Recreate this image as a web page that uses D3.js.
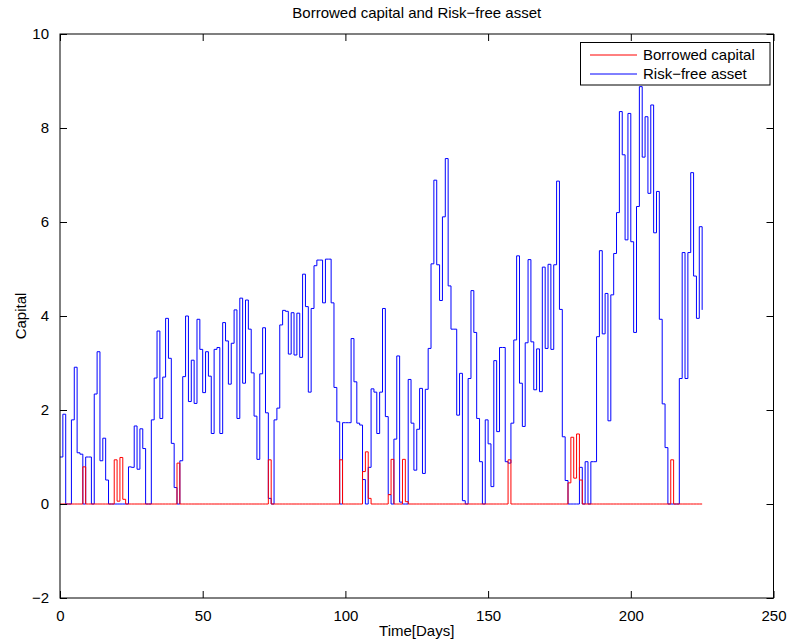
<!doctype html>
<html>
<head>
<meta charset="utf-8"/>
<title>Borrowed capital and Risk-free asset</title>
<script src="https://d3js.org/d3.v7.min.js"></script>
<style>
  body { margin: 0; background: #fff; }
  text { font-family: "Liberation Sans", Arial, sans-serif; font-size: 15px; fill: #000; }
</style>
</head>
<body>
<div id="chart"></div>
<script>
// values per day (stairs)
var riskFree = [
  1.00, 1.91, 0, 0, 1.79, 2.91, 1.09, 1.06, 0, 1.00,
  1.00, 0, 2.34, 3.24, 0.92, 1.40, 0.51, 0, 0, 0,
  0, 0, 0, 0, 0.79, 0.78, 1.66, 0.74, 1.60, 1.18,
  0, 0, 1.79, 2.68, 3.68, 1.82, 2.70, 3.95, 3.10, 1.29,
  0.35, 0, 0.92, 2.71, 4.00, 2.18, 3.06, 2.14, 3.93, 3.29,
  2.37, 3.24, 2.72, 1.50, 3.29, 3.33, 1.50, 3.86, 3.47, 2.55,
  3.42, 4.13, 1.82, 4.38, 2.57, 4.34, 3.72, 2.79, 1.87, 0.95,
  2.77, 3.75, 1.94, 0.12, 0, 1.79, 2.04, 3.81, 4.12, 4.10,
  3.19, 4.07, 3.17, 4.06, 3.12, 4.89, 4.20, 2.38, 4.16, 5.07,
  5.19, 5.19, 4.28, 5.21, 5.21, 4.28, 2.48, 1.75, 0, 1.73,
  1.73, 1.73, 3.52, 2.60, 1.72, 1.68, 0.52, 0, 0.78, 2.45,
  2.38, 1.50, 2.38, 4.16, 1.86, 0.20, 0, 1.38, 3.15, 0.04,
  0, 0, 2.65, 1.72, 0.72, 1.59, 2.46, 0.65, 2.44, 3.31,
  5.11, 6.89, 5.09, 4.33, 6.11, 7.35, 4.64, 3.72, 3.72, 1.89,
  2.78, 0.07, 0, 2.67, 4.54, 3.65, 1.82, 0.90, 0, 1.79,
  1.28, 0.37, 3.05, 1.54, 3.33, 3.33, 0.90, 0.87, 1.72, 3.49,
  5.28, 2.57, 1.65, 3.43, 5.20, 3.45, 2.43, 3.30, 2.39, 5.04,
  3.31, 5.10, 3.29, 5.09, 6.87, 4.14, 1.43, 0.50, 0, 0,
  0, 0, 0.78, 0, 0.90, 0, 0.90, 0.90, 3.56, 5.39,
  3.62, 4.48, 1.77, 4.45, 5.33, 6.20, 8.35, 7.43, 5.62, 8.31,
  5.58, 3.65, 6.33, 8.88, 7.38, 8.24, 6.61, 8.49, 5.77, 6.65,
  3.93, 2.13, 1.20, 0, 0, 0, 0, 2.67, 5.35, 2.67,
  5.35, 7.05, 4.85, 3.95, 5.90, 4.13
];

var borrowed = [
  0, 0, 0, 0, 0, 0, 0, 0, 0.79, 0,
  0, 0, 0, 0, 0, 0, 0, 0, 0, 0.94,
  0.06, 0.99, 0.10, 0, 0, 0, 0, 0, 0, 0,
  0, 0, 0, 0, 0, 0, 0, 0, 0, 0,
  0, 0.87, 0, 0, 0, 0, 0, 0, 0, 0,
  0, 0, 0, 0, 0, 0, 0, 0, 0, 0,
  0, 0, 0, 0, 0, 0, 0, 0, 0, 0,
  0, 0, 0, 0.94, 0, 0, 0, 0, 0, 0,
  0, 0, 0, 0, 0, 0, 0, 0, 0, 0,
  0, 0, 0, 0, 0, 0, 0, 0, 0.94, 0,
  0, 0, 0, 0, 0, 0, 0.69, 1.11, 0.12, 0,
  0, 0, 0, 0, 0, 0.20, 0.95, 0, 0, 0,
  0.95, 0.05, 0, 0, 0, 0, 0, 0, 0, 0,
  0, 0, 0, 0, 0, 0, 0, 0, 0, 0,
  0, 0, 0, 0, 0, 0, 0, 0, 0, 0,
  0, 0, 0, 0, 0, 0, 0, 0.94, 0, 0,
  0, 0, 0, 0, 0, 0, 0, 0, 0, 0,
  0, 0, 0, 0, 0, 0, 0, 0, 0.45, 1.42,
  0.55, 1.49, 0.51, 0, 0, 0, 0, 0, 0, 0,
  0, 0, 0, 0, 0, 0, 0, 0, 0, 0,
  0, 0, 0, 0, 0, 0, 0, 0, 0, 0,
  0, 0, 0, 0, 0.94, 0, 0, 0, 0, 0,
  0, 0, 0, 0, 0, 0
];

var xTicks = [0, 50, 100, 150, 200, 250];
var yTicks = [-2, 0, 2, 4, 6, 8, 10];
var seriesNames = ["Borrowed capital", "Risk\u2212free asset"];
var seriesColors = ["#ff0000", "#0000ff"];

var W = 789, H = 641;
var mLeft = 60, mRight = 773.5, mTop = 34, mBottom = 598;

var svg = d3.select("#chart").append("svg")
  .attr("width", W)
  .attr("height", H);

var x = d3.scaleLinear().domain([0, 250]).range([mLeft, mRight]);
var y = d3.scaleLinear().domain([-2, 10]).range([mBottom, mTop]);

// stairs lines
var stairs = d3.line()
  .x(function(d, i) { return x(i); })
  .y(function(d) { return y(d); })
  .curve(d3.curveStepAfter);

var plot = svg.append("g");
plot.append("path")
  .datum(riskFree)
  .attr("d", stairs)
  .attr("fill", "none")
  .attr("stroke", seriesColors[1])
  .attr("stroke-width", 1);
plot.append("path")
  .datum(borrowed)
  .attr("d", stairs)
  .attr("fill", "none")
  .attr("stroke", seriesColors[0])
  .attr("stroke-width", 1);

// axes, matlab style: ticks inside on all sides
var tl = 7;
svg.append("g").attr("transform", "translate(0," + mBottom + ")")
  .call(d3.axisBottom(x).tickValues(xTicks).tickSizeInner(-tl).tickSizeOuter(0).tickPadding(tl + 5))
  .call(function(g) { g.select(".domain").remove(); });
svg.append("g").attr("transform", "translate(0," + mTop + ")")
  .call(d3.axisTop(x).tickValues(xTicks).tickSizeInner(-tl).tickSizeOuter(0).tickFormat(""))
  .call(function(g) { g.select(".domain").remove(); });
svg.append("g").attr("transform", "translate(" + mLeft + ",0)")
  .call(d3.axisLeft(y).tickValues(yTicks).tickSizeInner(-tl).tickSizeOuter(0).tickPadding(tl + 4)
    .tickFormat(function(d) { return d < 0 ? "\u2212" + (-d) : d; }))
  .call(function(g) { g.select(".domain").remove(); });
svg.append("g").attr("transform", "translate(" + mRight + ",0)")
  .call(d3.axisRight(y).tickValues(yTicks).tickSizeInner(-tl).tickSizeOuter(0).tickFormat(""))
  .call(function(g) { g.select(".domain").remove(); });

svg.selectAll(".tick text").style("font-size", "15px").style("font-family", "'Liberation Sans', Arial, sans-serif");
svg.selectAll(".tick line").attr("stroke", "#000");

svg.append("rect")
  .attr("x", mLeft).attr("y", mTop)
  .attr("width", mRight - mLeft).attr("height", mBottom - mTop)
  .attr("fill", "none").attr("stroke", "#000").attr("stroke-width", 1);

// titles
svg.append("text")
  .attr("x", (mLeft + mRight) / 2).attr("y", 18)
  .attr("text-anchor", "middle")
  .text("Borrowed capital and Risk\u2212free asset");
svg.append("text")
  .attr("x", (mLeft + mRight) / 2).attr("y", 636)
  .attr("text-anchor", "middle")
  .text("Time[Days]");
svg.append("text")
  .attr("transform", "translate(26," + ((mTop + mBottom) / 2) + ") rotate(-90)")
  .attr("text-anchor", "middle")
  .text("Capital");

// legend
var lg = svg.append("g");
lg.append("rect")
  .attr("x", 580.5).attr("y", 42.5).attr("width", 189.5).attr("height", 42.5)
  .attr("fill", "#fff").attr("stroke", "#000");
seriesNames.forEach(function(name, i) {
  var ly = 55 + i * 19;
  lg.append("line")
    .attr("x1", 590).attr("x2", 637).attr("y1", ly).attr("y2", ly)
    .attr("stroke", seriesColors[i]);
  lg.append("text")
    .attr("x", 643).attr("y", ly + 5)
    .text(name);
});
</script>
</body>
</html>
